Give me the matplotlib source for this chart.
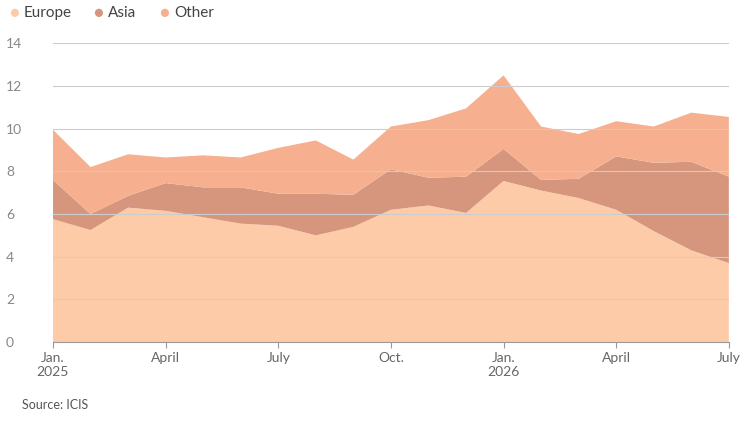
import numpy as np
import matplotlib.pyplot as plt

plt.rcParams['font.family'] = ['Lato', 'DejaVu Sans']

months = np.arange(19)
europe = [5.76, 5.25, 6.3, 6.15, 5.85, 5.55, 5.45, 5.0, 5.4, 6.2, 6.4, 6.05, 7.55, 7.1, 6.75, 6.2, 5.2, 4.3, 3.7]
eur_asia = [7.6, 6.0, 6.85, 7.45, 7.25, 7.25, 6.95, 6.95, 6.9, 8.1, 7.7, 7.75, 9.05, 7.6, 7.65, 8.7, 8.4, 8.45, 7.75]
total = [9.95, 8.2, 8.8, 8.65, 8.75, 8.65, 9.1, 9.45, 8.55, 10.1, 10.4, 10.95, 12.5, 10.1, 9.75, 10.35, 10.1, 10.75, 10.55]
asia = np.array(eur_asia) - np.array(europe)
other = np.array(total) - np.array(eur_asia)

tick_pos = [0, 3, 6, 9, 12, 15, 18]
tick_labels = ['Jan.\n2025', 'April', 'July', 'Oct.', 'Jan.\n2026', 'April', 'July']
colors = ['#fecba8', '#d6957d', '#f6b08f']
names = ['Europe', 'Asia', 'Other']

fig = plt.figure(figsize=(7.46, 4.33), dpi=100)
ax = fig.add_axes([0.071, 0.21, 0.906, 0.69])
ax.stackplot(months, europe, asia, other, colors=colors, linewidth=0, zorder=1)
ax.set_xlim(0, 18)
ax.set_ylim(0, 14)
ax.set_yticks(range(0, 15, 2))
ax.set_xticks(tick_pos)
ax.set_xticklabels(tick_labels)
ax.grid(axis='y', color='#cccccc', linewidth=0.8, zorder=3)
ax.set_axisbelow(False)
for s in ['top', 'right', 'left']:
    ax.spines[s].set_visible(False)
ax.spines['bottom'].set_color('#999999')
ax.tick_params(axis='y', length=0, colors='#888888', labelsize=10, pad=12)
ax.tick_params(axis='x', length=4, color='#999999', colors='#666666', labelsize=10)
for lbl in ax.get_yticklabels():
    lbl.set_horizontalalignment('left')
    lbl.set_x(-0.045)

x = 0.012
for n, c in zip(names, colors):
    fig.text(x, 0.97, '\u25cf', color=c, fontsize=12, va='center', ha='left')
    t = fig.text(x + 0.02, 0.97, n, color='#444444', fontsize=11, va='center', ha='left')
    x += 0.02 + len(n) * 0.0125 + 0.018

fig.text(0.03, 0.055, 'Source: ICIS', color='#555555', fontsize=9)
fig.savefig('out.png', dpi=100)
